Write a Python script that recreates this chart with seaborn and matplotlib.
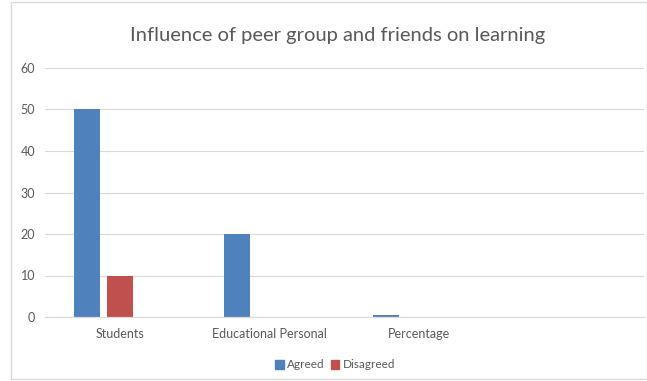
import matplotlib
matplotlib.use("Agg")
import matplotlib.pyplot as plt
import seaborn as sns
import pandas as pd
from matplotlib.patches import Patch, Rectangle

categories = ["Students", "Educational Personal", "Percentage", " "]
agreed = [50, 20, 0.6, 0]
disagreed = [10, 0, 0, 0]
spare = [0, 0, 0, 0]
series = ["Agreed", "Disagreed", "Series3"]
colors = ["#4F81BD", "#C0504D", "#9BBB59"]
yticks = [0, 10, 20, 30, 40, 50, 60]
title = "Influence of peer group and friends on learning"

rows = []
for vals, s in zip([agreed, disagreed, spare], series):
    for c, v in zip(categories, vals):
        rows.append({"category": c, "series": s, "value": v})
df = pd.DataFrame(rows)

sns.set_style("white")
plt.rcParams["font.family"] = ["Lato", "DejaVu Sans"]

fig = plt.figure(figsize=(6.47, 3.81), dpi=100)
ax = fig.add_axes([45/647, (381-317)/381, (644-45)/647, (317-68)/381])

sns.barplot(data=df, x="category", y="value", hue="series", order=categories,
            hue_order=series, palette=colors, saturation=1, width=0.66, gap=0.21,
            linewidth=0, ax=ax, legend=False)

ax.set_xlim(-0.5, len(categories) - 0.5)
ax.set_ylim(0, 60)
ax.set_yticks(yticks)
ax.yaxis.grid(True, color="#D9D9D9", linewidth=0.8)
ax.set_axisbelow(True)
for s in ["top", "right", "left"]:
    ax.spines[s].set_visible(False)
ax.spines["bottom"].set_color("#D9D9D9")
ax.spines["bottom"].set_linewidth(0.9)
ax.set_xlabel("")
ax.set_ylabel("")
ax.tick_params(axis="x", which="major", length=0, pad=8, labelsize=9, labelcolor="#595959")
ax.tick_params(axis="y", length=0, pad=7, labelsize=9, labelcolor="#595959")
ax.set_xticks([i - 0.5 for i in range(len(categories) + 1)], minor=True)
ax.tick_params(axis="x", which="minor", length=4, color="#D9D9D9", width=0.9)

fig.text(0.522, 1 - 35/381, title, ha="center", va="center", fontsize=14.5, color="#595959")

handles = [Patch(color=colors[0], label=series[0]), Patch(color=colors[1], label=series[1])]
fig.legend(handles=handles, loc="center", bbox_to_anchor=(0.518, 1 - 365/381), ncol=2,
           frameon=False, fontsize=8.5, handlelength=0.7, handleheight=0.7,
           handletextpad=0.3, columnspacing=0.5, labelcolor="#595959")

fig.patches.append(Rectangle((11/647, 0.005), 1 - 11/647, 0.99, transform=fig.transFigure,
                             fill=False, edgecolor="#D9D9D9", linewidth=1))

fig.savefig("out.png", dpi=100)
